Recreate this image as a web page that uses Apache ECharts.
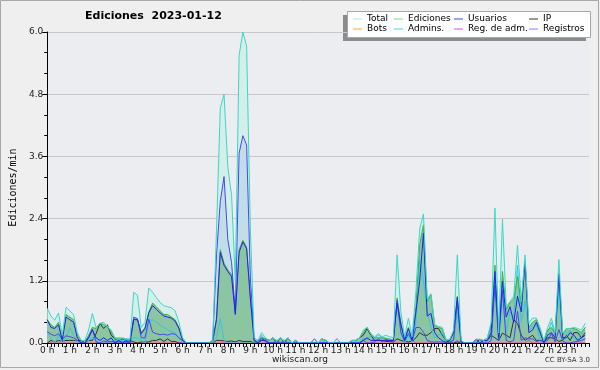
<!DOCTYPE html>
<html><head><meta charset="utf-8">
<script src="https://cdn.jsdelivr.net/npm/echarts@6/dist/echarts.min.js"></script>
<style>html,body{margin:0;padding:0;background:#efefef}#c{width:600px;height:370px}</style>
</head><body><div id="c"></div>
<script>
// 10-minute samples, 00:00 .. 23:50
const hourLabels = ['0 h','1 h','2 h','3 h','4 h','5 h','6 h','7 h','8 h','9 h','10 h','11 h','12 h','13 h','14 h','15 h','16 h','17 h','18 h','19 h','20 h','21 h','22 h','23 h'];
const yTicks = [0, 1.2, 2.4, 3.6, 4.8, 6.0];
const total = [
 0.67,0.52,0.44,0.58,0.15,0.69, 0.62,0.55,0.20,0.05,0.05,0.25, 0.57,0.30,0.38,0.40,0.32,0.25, 0.10,0.10,0.10,0.08,0.08,0.98,
 0.92,0.30,0.40,1.06,0.98,0.88, 0.78,0.72,0.70,0.68,0.62,0.40, 0.10,0,0,0,0,0, 0,0,0.05,2.20,4.53,4.80,
 3.40,2.85,1.20,5.55,6.00,5.73, 2.20,0.10,0.05,0.20,0.10,0.05, 0.10,0.05,0.10,0.05,0.10,0, 0.05,0,0,0,0,0.08,
 0,0.08,0.05,0,0,0.08, 0,0,0,0.05,0.05,0.10, 0.25,0.30,0.18,0.12,0.18,0.12, 0.15,0.12,0.10,1.70,0.60,0.12,
 0.48,0.12,1.00,2.20,2.49,0.85, 0.95,0.35,0.32,0.30,0.07,0.07, 0.25,1.70,0.05,0,0,0, 0.07,0.07,0.05,0.10,0.40,2.60,
 0.19,2.39,0.70,0.80,0.90,1.89, 0.80,1.70,0.38,0.48,0.48,0.30, 0.05,0.30,0.48,0.20,1.61,0.19, 0.28,0.28,0.30,0.28,0.25,0.38
];
const ediciones = [
 0.45,0.35,0.30,0.40,0.08,0.55, 0.50,0.45,0.15,0.05,0,0.15, 0.30,0.28,0.38,0.36,0.30,0.22, 0.08,0.08,0.08,0.08,0.05,0.47,
 0.45,0.20,0.30,0.60,0.77,0.70, 0.62,0.55,0.55,0.50,0.45,0.30, 0.05,0,0,0,0,0, 0,0,0,0.50,1.80,1.54,
 1.41,1.32,0.57,1.80,1.98,1.85, 0.89,0,0.05,0.10,0.08,0.05, 0.10,0,0.10,0,0.10,0, 0.05,0,0,0,0,0,
 0,0.08,0.05,0,0,0, 0,0,0,0.05,0.05,0.10, 0.20,0.30,0.18,0.10,0.10,0.10, 0.08,0.08,0.05,0.87,0.40,0.08,
 0.30,0.08,0.70,1.90,2.28,0.80, 0.93,0.33,0.30,0.28,0.05,0.05, 0.20,0.90,0.02,0,0,0, 0.07,0.07,0.05,0.10,0.35,1.50,
 0.15,1.38,0.65,0.78,0.85,1.28, 0.75,1.60,0.30,0.40,0.45,0.25, 0.02,0.25,0.30,0.18,1.35,0.15, 0.28,0.28,0.28,0.25,0.20,0.30
];
const usuarios = [
 0.45,0.30,0.28,0.35,0.05,0.50, 0.45,0.40,0.10,0,0,0.10, 0.25,0.10,0.05,0.10,0.05,0.10, 0,0.05,0,0.05,0,0.45,
 0.45,0.18,0.28,0.58,0.72,0.65, 0.58,0.52,0.50,0.48,0.42,0.28, 0.05,0,0,0,0,0, 0,0,0.05,0.45,1.75,1.50,
 1.38,1.28,0.55,1.75,1.95,1.82, 0.85,0.05,0,0.05,0.05,0, 0,0,0,0,0,0, 0,0,0,0,0,0.08,
 0,0,0,0,0,0.08, 0,0,0,0,0,0, 0.05,0.10,0.05,0.05,0.05,0.05, 0.05,0.05,0.05,0.77,0.35,0.05,
 0.28,0.05,0.60,1.20,2.12,0.52, 0.57,0.20,0.10,0.05,0,0.05, 0.20,0.88,0.02,0,0,0, 0.07,0,0.05,0.05,0.20,1.38,
 0.10,1.19,0.50,0.70,0.40,0.90, 0.60,1.57,0.20,0.25,0.40,0.20, 0,0.15,0.20,0.10,1.32,0.10, 0.10,0.20,0.15,0.05,0.10,0.15
];
const ip = [
 0,0.05,0.02,0.05,0.03,0.05, 0.05,0.05,0.05,0.05,0,0.05, 0.05,0.18,0.38,0.28,0.35,0.15, 0.08,0.03,0.08,0.03,0.05,0.02,
 0,0.02,0.02,0.02,0.05,0.05, 0.08,0.03,0.08,0.03,0.03,0, 0,0,0,0,0,0, 0,0,0,0.05,0.05,0.04,
 0.03,0.04,0.02,0.05,0.03,0.03, 0.03,0,0.05,0.05,0.08,0.05, 0.10,0,0.10,0,0.10,0, 0.05,0,0,0,0,0,
 0,0.08,0.05,0,0,0, 0,0,0,0.05,0.05,0.10, 0.15,0.28,0.15,0.05,0.05,0.05, 0.03,0.03,0.02,0.08,0.05,0.03,
 0.02,0.03,0.10,0.20,0.15,0.15, 0.20,0.28,0.28,0.15,0.05,0, 0,0.02,0,0,0,0, 0,0.07,0,0.05,0.15,0.10,
 0.05,0.19,0.15,0.10,0.45,0.38, 0.15,0.05,0.10,0.15,0.05,0.05, 0.02,0.10,0.10,0.08,0.03,0.05, 0.15,0.05,0.20,0.20,0.10,0.20
];
const bots = new Array(144).fill(0);
const admins = [
 0.20,0.10,0,0.15,0,0.10, 0.30,0.15,0,0,0,0.05, 0.10,0.05,0,0,0.05,0, 0.05,0.05,0.05,0.05,0.05,0.10,
 0.10,0.05,0,0.40,0.45,0.40, 0.35,0.30,0.25,0.22,0.20,0.10, 0,0,0,0,0,0, 0,0,0,0.10,0.47,0.05,
 0,0,0,0,0,0, 0,0,0,0.15,0.05,0, 0,0,0,0,0,0, 0,0,0,0,0,0,
 0,0,0,0,0,0, 0,0,0,0,0,0, 0.10,0.05,0.15,0.10,0.15,0.10, 0.10,0.05,0.05,0.80,0.20,0,
 0.15,0,0.40,1.60,1.20,0.60, 0.30,0.10,0.15,0.20,0.05,0.05, 0.05,0.60,0,0,0,0, 0,0,0,0.05,0.30,1.20,
 0.05,1.10,0.20,0.60,0.50,1.50, 0.40,0.80,0.25,0.30,0.35,0.05, 0,0.20,0.40,0.15,1.00,0.10, 0.15,0.25,0.10,0.05,0.20,0.30
];
const regAdm = [
 0,0,0,0,0,0, 0,0,0,0,0,0, 0,0,0,0,0,0, 0,0,0,0,0,0,
 0,0,0,0,0,0, 0,0,0,0,0,0, 0,0,0,0,0,0, 0,0,0,0,0,0,
 0,0,0,0,0,0, 0,0,0,0,0,0, 0,0,0,0,0,0, 0,0,0,0,0,0,
 0,0,0,0,0,0, 0,0,0,0,0,0, 0,0,0,0,0,0, 0,0,0,0,0,0,
 0,0.05,0,0,0,0, 0,0,0,0,0,0, 0,0.05,0,0,0,0, 0,0,0,0,0,0,
 0,0,0,0,0,0, 0,0,0.05,0,0,0, 0,0,0,0,0,0, 0,0,0,0,0,0
];
const registros = [
 0.22,0.17,0.14,0.18,0.07,0.14, 0.12,0.10,0.05,0,0.05,0.10, 0.27,0.02,0,0.04,0.02,0.03, 0.02,0.02,0.02,0,0.03,0.50,
 0.47,0.10,0.10,0.46,0.21,0.18, 0.16,0.17,0.15,0.18,0.17,0.10, 0.05,0,0,0,0,0, 0,0,0.05,1.70,2.73,3.21,
 2.00,1.55,0.60,3.66,4.00,3.82, 1.25,0.08,0,0.10,0.02,0, 0,0.05,0,0.05,0,0, 0,0,0,0,0,0,
 0,0,0,0,0,0, 0,0,0,0,0,0, 0.05,0,0,0.02,0.08,0.02, 0.07,0.04,0.05,0.83,0.20,0.04,
 0.18,0.04,0.30,0.30,0.21,0.05, 0.02,0.02,0.02,0.02,0.02,0.02, 0.05,0.80,0.03,0,0,0, 0,0,0,0,0.05,1.10,
 0.04,1.01,0.05,0.02,0.05,0.61, 0.05,0.10,0.08,0.08,0.03,0.05, 0.03,0.05,0.18,0.02,0.26,0.04, 0,0,0.02,0.03,0.05,0.08
];

const STEP_H = 10 / 60; // sample spacing in hours
const toPts = arr => arr.map((v, i) => [i * STEP_H, v]);
const FONT = 'DejaVu Sans';

function area(name, data, color, z) {
  return { name, type: 'line', data: toPts(data), symbol: 'none', silent: true, z,
    lineStyle: { width: 0 }, areaStyle: { color, opacity: 1 } };
}
function line(name, data, color, z) {
  return { name, type: 'line', data: toPts(data), symbol: 'none', z,
    lineStyle: { width: 1, color }, itemStyle: { color } };
}

const chart = echarts.init(document.getElementById('c'), null, { renderer: 'canvas' });
const legendBase = { orient: 'vertical', top: 14, padding: 0, itemGap: 0, itemWidth: 9, itemHeight: 1, icon: 'rect',
  textStyle: { fontFamily: FONT, fontSize: 9, color: '#000', lineHeight: 10 }, selectedMode: false };

chart.setOption({
  animation: false,
  backgroundColor: '#efefef',
  title: { text: 'Ediciones  2023-01-12', left: 85, top: 11, padding: 0,
    textStyle: { fontFamily: FONT, fontSize: 11, fontWeight: 'bold', color: '#000' } },
  grid: { left: 46, right: 11, top: 32, bottom: 27, show: true, backgroundColor: '#ecedf0', borderWidth: 0 },
  legend: [
    Object.assign({}, legendBase, { left: 353, data: [{ name: 'Total', itemStyle: { color: '#a6ecec' } }, { name: 'Bots', itemStyle: { color: '#ffa530' } }] }),
    Object.assign({}, legendBase, { left: 394, data: [{ name: 'Ediciones', itemStyle: { color: '#7dd87d' } }, { name: 'Admins.', itemStyle: { color: '#3cd6e6' } }] }),
    Object.assign({}, legendBase, { left: 454, data: [{ name: 'Usuarios', itemStyle: { color: '#3f3ff8' } }, { name: 'Reg. de adm.', itemStyle: { color: '#e048e8' } }] }),
    Object.assign({}, legendBase, { left: 529, data: [{ name: 'IP', itemStyle: { color: '#333333' } }, { name: 'Registros', itemStyle: { color: '#8080ff' } }] })
  ],
  xAxis: {
    type: 'value', min: 0, max: 24, interval: 1, z: 5,
    axisLine: { show: true, lineStyle: { color: '#000', width: 1 } },
    axisTick: { show: true, length: 4, lineStyle: { color: '#000' } },
    minorTick: { show: true, splitNumber: 6, length: 4, lineStyle: { color: '#000' } },
    splitLine: { show: false },
    axisLabel: { fontFamily: FONT, fontSize: 9, color: '#222', margin: 3,
      formatter: v => hourLabels[v] || '' }
  },
  yAxis: {
    type: 'value', min: yTicks[0], max: yTicks[yTicks.length - 1], interval: 1.2,
    name: 'Ediciones/min', nameLocation: 'middle', nameGap: 29,
    nameTextStyle: { fontFamily: 'DejaVu Sans Mono', fontSize: 10, color: '#000' },
    axisLine: { show: true, lineStyle: { color: '#000', width: 1 } },
    axisTick: { show: true, length: 5, lineStyle: { color: '#000' } },
    minorTick: { show: true, splitNumber: 3, length: 3, lineStyle: { color: '#000' } },
    splitLine: { show: true, lineStyle: { color: '#c8c8c8', width: 1 } },
    axisLabel: { fontFamily: FONT, fontSize: 9, color: '#222', margin: 4, formatter: v => v.toFixed(1) }
  },
  graphic: [
    { type: 'rect', z: 0, shape: { x: 343, y: 15, width: 243, height: 26 }, style: { fill: '#8c8c8c' } },
    { type: 'rect', z: 1, shape: { x: 347.5, y: 11.5, width: 243, height: 26 }, style: { fill: '#ffffff', stroke: '#a8a8a8', lineWidth: 1 } },
    { type: 'text', left: 'center', top: 355, style: { text: 'wikiscan.org', fontFamily: FONT, fontSize: 9, fill: '#222' } },
    { type: 'text', right: 10, top: 357, style: { text: 'CC BY-SA 3.0', fontFamily: FONT, fontSize: 7, fill: '#333' } },
    { type: 'rect', z: 10, shape: { x: 0.5, y: 0.5, width: 598, height: 367 }, style: { fill: 'none', stroke: '#a8a8a8', lineWidth: 1 } }
  ],
  series: [
    area('_totalArea', total, '#d3efe9', 1),
    area('_regArea', registros, 'rgba(70,90,230,0.12)', 1),
    area('_edArea', ediciones, '#8cc5a2', 1),
    line('Bots', bots, '#ffa530', 2),
    line('Reg. de adm.', regAdm, '#e040e0', 3),
    line('IP', ip, '#333333', 3),
    line('Admins.', admins, '#30c8e0', 3),
    line('Ediciones', ediciones, '#3cb043', 3),
    line('Registros', registros, '#4848f0', 3),
    line('Usuarios', usuarios, '#2222ee', 3),
    line('Total', total, '#3dd6c6', 3)
  ]
});
</script></body></html>
